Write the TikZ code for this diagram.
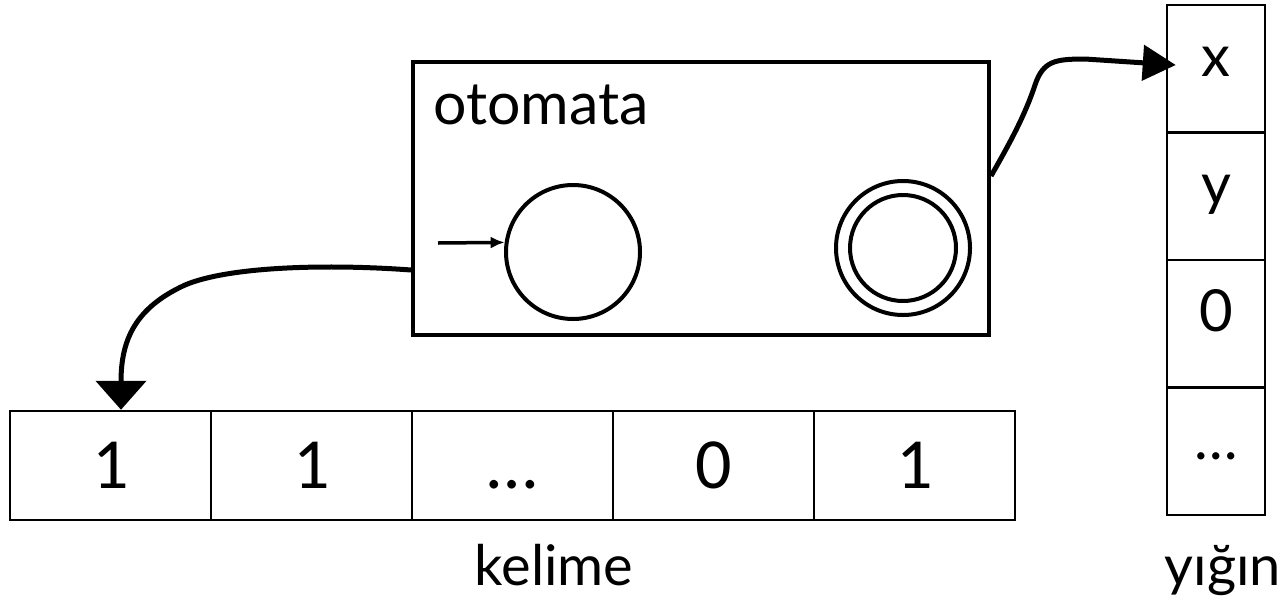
\documentclass[tikz,border=0pt]{standalone}
\usepackage{fontspec}
\setmainfont{Lato}
\newfontfamily\tapefont{Carlito}
\usetikzlibrary{arrows.meta}
\begin{document}
\begin{tikzpicture}[x=1pt,y=-1pt,
  cellbox/.style={draw, line width=2.5pt, minimum width=201pt, minimum height=109pt, inner sep=0pt, text height=46pt, text depth=0pt, font=\tapefont\fontsize{72}{72}\selectfont},
  stackbox/.style={draw, line width=2.5pt, minimum width=98pt, minimum height=127.5pt, inner sep=0pt, text height=16pt, text depth=0pt, font=\fontsize{58}{58}\selectfont},
  statebox/.style={circle, draw, line width=4pt, inner sep=0pt},
  link/.style={line width=5pt},
  lbl/.style={font=\fontsize{56}{56}\selectfont, inner sep=0pt}
]
\useasboundingbox (0,0) rectangle (1284,600);

% tape
\node[cellbox] (t1) at (110.5,465.5) {1};
\node[cellbox] (t2) at (311.5,465.5) {1};
\node[cellbox] (t3) at (512.5,465.5) {…};
\node[cellbox] (t4) at (713.5,465.5) {0};
\node[cellbox] (t5) at (914.5,465.5) {1};
\node[lbl, anchor=base] (kel) at (554,585) {kelime};

% stack
\node[stackbox] (s1) at (1216,68.5) {x};
\node[stackbox] (s2) at (1216,196) {y};
\node[stackbox] (s3) at (1216,323.5) {0};
\node[stackbox] (s4) at (1216,451) {…};
\node[lbl, anchor=base] (yig) at (1223,585) {yığın};

% automaton
\node[draw, line width=4pt, minimum width=576pt, minimum height=273pt, inner sep=0pt] (aut) at (701,198.5) {};
\node[lbl, anchor=base west, font=\fontsize{59}{59}\selectfont] (autlbl) at (433,124) {otomata};
\node[statebox, minimum size=134pt] (q0) at (573,252) {};
\node[statebox, minimum size=134pt] (q1) at (903,248) {};
\node[statebox, minimum size=106pt] (q1i) at (903,248) {};
\coordinate (init) at (438,243);
\draw[line width=3.5pt, -{Latex[length=14pt,width=12pt]}] (init) -- (q0.172);

% connectors
\coordinate (rs) at ([yshift=22.5pt]aut.east);
\coordinate (rt) at ([xshift=10pt,yshift=3.5pt]s1.west);
\draw[link, -{Triangle[length=33pt,width=35pt]}] (rs) .. controls +(20,-35) and +(-10,30) .. (1035,85) .. controls +(8,-24) and +(-30,0) .. (1085,59) -- (rt);

\coordinate (ls) at ([yshift=-71.5pt]aut.west);
\coordinate (lt) at ([xshift=10.5pt]t1.north);
\draw[link, -{Triangle[length=29pt,width=50pt]}] (ls) .. controls (330,264) and (230,266) .. (185,285) .. controls (135,308) and (121,340) .. (lt);
\end{tikzpicture}
\end{document}
